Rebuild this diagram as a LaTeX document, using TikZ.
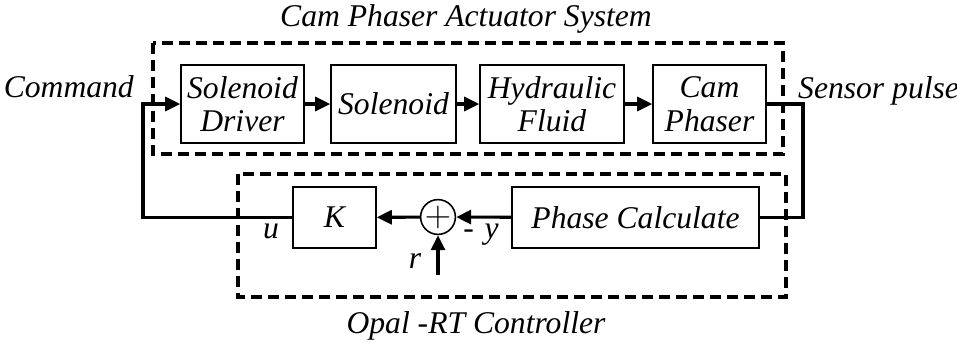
\documentclass[tikz,border=0pt]{standalone}
\usepackage{fontspec}
\setmainfont{Liberation Serif}[
  ItalicFont={Liberation Serif Italic},
  BoldFont={Liberation Serif Bold}]
\usepackage{tikz}
\usetikzlibrary{arrows.meta, positioning, shapes.geometric}

\begin{document}
\begin{tikzpicture}[
    x=0.02cm, y=-0.02cm,
    font=\fontsize{18}{19}\selectfont\itshape,
    box/.style={rectangle, draw, line width=0.9pt, minimum height=1.56cm,
                align=center, inner sep=0pt},
    arrow/.style={-{Triangle[length=0.3cm,width=0.28cm]}, line width=1.8pt},
    wire/.style={line width=1.8pt},
    dashbox/.style={line width=2.1pt, dash pattern=on 0.22cm off 0.12cm},
]
\useasboundingbox (0,0) rectangle (957,343);

% actuator side
\node[box, minimum width=2.46cm] (drv)   at (242.5,104) {Solenoid\\Driver};
\node[box, minimum width=2.50cm] (sol)   at (393.5,104) {Solenoid};
\node[box, minimum width=2.88cm] (hyd)   at (552,104)   {Hydraulic\\Fluid};
\node[box, minimum width=2.26cm] (cam)   at (709.5,104) {Cam\\Phaser};

% controller side
\node[box, minimum width=1.66cm, minimum height=1.22cm] (k)     at (334.5,217.5) {K};
\node[box, minimum width=4.94cm, minimum height=1.22cm] (phase) at (635.5,217.5) {Phase Calculate};
\node[circle, draw, line width=0.9pt, minimum size=0.56cm, inner sep=0pt,
      font=\fontsize{20}{20}\selectfont\upshape] (sum) at (438,217) {$+$};

\coordinate (cmd)  at (143,104);
\coordinate (sens) at (803,104);
\coordinate (rin)  at (438,275);

\draw[arrow] (drv) -- (sol);
\draw[arrow] (sol) -- (hyd);
\draw[arrow] (hyd) -- (cam);
\draw[wire]  (cam.east) -- (sens) |- (phase.east);
\draw[arrow] (phase) -- (sum);
\draw[arrow] (sum) -- (k);
\draw[arrow] (rin) -- (sum.south);
\draw[arrow] (k.west) -| (cmd) -- (drv.west);

% dashed groups
\draw[dashbox] (153,43) rectangle (783,154);
\draw[dashbox] (238,174) rectangle (786,297);

% labels
\node (tact) at (466,19) {Cam Phaser Actuator System};
\node[anchor=base] (tctl) at (476,333) {Opal -RT Controller};
\node[anchor=base east] (lcmd) at (140,97) {Command};
\node[anchor=base west] (lsens) at (792,98) {Sensor pulse};
\node[anchor=base] (lu) at (271,238) {u};
\node[anchor=base] (lr) at (415,268) {r};
\node[anchor=base] (ly) at (481,238) {-\,\,y};
\end{tikzpicture}
\end{document}
